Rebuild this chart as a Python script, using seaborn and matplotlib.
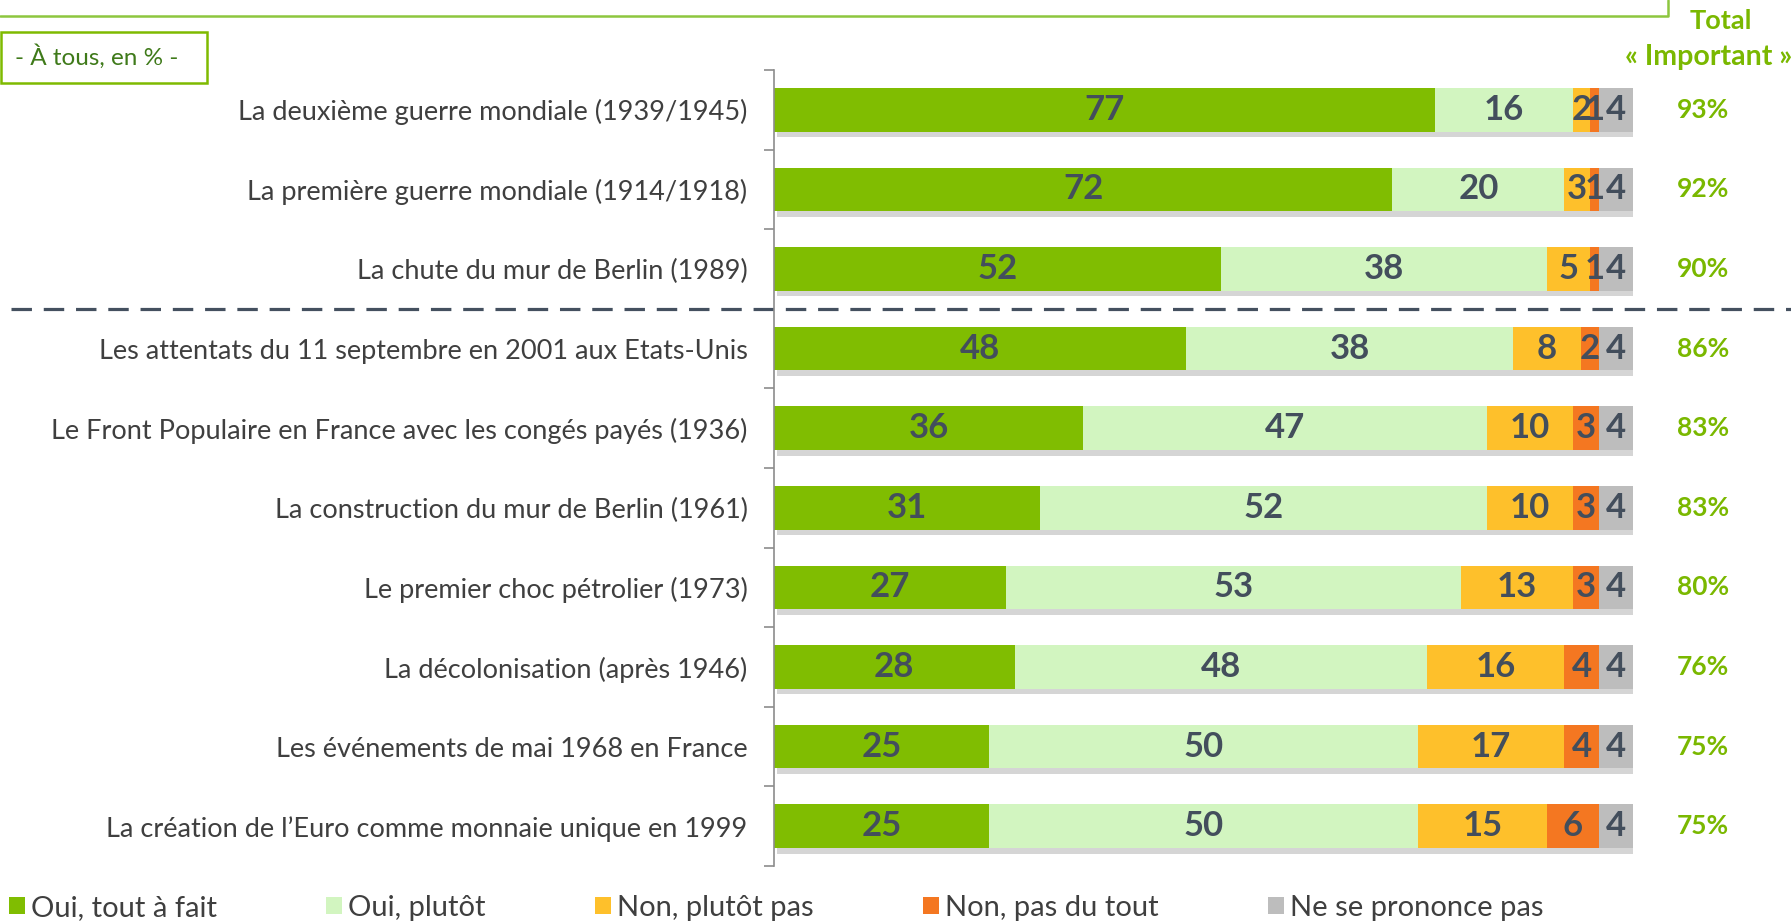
import numpy as np
import pandas as pd
import matplotlib
matplotlib.use("Agg")
import matplotlib.pyplot as plt
import seaborn as sns
from matplotlib.patches import Rectangle, Patch
from matplotlib.lines import Line2D
import matplotlib.patheffects as pe
from matplotlib.transforms import blended_transform_factory

# ---------------- data ----------------
categories = [
    "La deuxième guerre mondiale (1939/1945)",
    "La première guerre mondiale (1914/1918)",
    "La chute du mur de Berlin (1989)",
    "Les attentats du 11 septembre en 2001 aux Etats-Unis",
    "Le Front Populaire en France avec les congés payés (1936)",
    "La construction du mur de Berlin (1961)",
    "Le premier choc pétrolier (1973)",
    "La décolonisation (après 1946)",
    "Les événements de mai 1968 en France",
    "La création de l\u2019Euro comme monnaie unique en 1999",
]
oui_tout_a_fait = [77, 72, 52, 48, 36, 31, 27, 28, 25, 25]
oui_plutot = [16, 20, 38, 38, 47, 52, 53, 48, 50, 50]
non_plutot_pas = [2, 3, 5, 8, 10, 10, 13, 16, 17, 15]
non_pas_du_tout = [1, 1, 1, 2, 3, 3, 3, 4, 4, 6]
ne_se_prononce_pas = [4, 4, 4, 4, 4, 4, 4, 4, 4, 4]
total_important = ["93%", "92%", "90%", "86%", "83%", "83%", "80%", "76%", "75%", "75%"]
series_names = ["Oui, tout à fait", "Oui, plutôt", "Non, plutôt pas",
                "Non, pas du tout", "Ne se prononce pas"]

colors = ["#80BD01", "#D2F5C0", "#FEC02B", "#F47721", "#BDBDBD"]
green_txt = "#7AB800"
val_color = "#434E5C"
lab_color = "#3F3F3F"

# ---------------- style ----------------
sns.set_theme(style="white")
plt.rcParams['font.family'] = ['Lato', 'DejaVu Sans']

W, H = 1791, 922
fig = plt.figure(figsize=(W / 100, H / 100), dpi=100)
ax = fig.add_axes([774 / W, 1 - 866 / H, (1633 - 774) / W, (866 - 70) / H])

series = [oui_tout_a_fait, oui_plutot, non_plutot_pas, non_pas_du_tout, ne_se_prononce_pas]
vals = np.array(series)
cum = np.cumsum(vals, axis=0)

for i in reversed(range(len(series))):
    df = pd.DataFrame({"cat": categories, "val": cum[i]})
    n_before = len(ax.patches)
    sns.barplot(data=df, x="val", y="cat", color=colors[i], orient="h",
                width=0.55, ax=ax, saturation=1, linewidth=0, edgecolor="none")
    if i == len(series) - 1:
        for p in ax.patches[n_before:]:
            p.set_path_effects([pe.SimplePatchShadow(offset=(2, -4), alpha=0.3,
                                                     shadow_rgbFace="#777777"),
                                pe.Normal()])

# value labels
for i in range(len(series)):
    for j in range(len(categories)):
        v = vals[i][j]
        ax.text(cum[i][j] - v / 2, j, f"{v}", ha="center", va="center",
                fontsize=25, fontweight="bold", color=val_color)

ax.set_xlim(0, 100)
ax.set_ylim(9.5, -0.5)
ax.set_xlabel("")
ax.set_ylabel("")
for s in ["top", "right", "bottom"]:
    ax.spines[s].set_visible(False)
ax.spines["left"].set_color("#8C8C8C")
ax.spines["left"].set_linewidth(1.2)
ax.xaxis.set_visible(False)
ax.tick_params(axis="y", which="major", length=0, pad=19, labelsize=19.5,
               labelcolor=lab_color)
ax.set_yticks(np.arange(-0.5, 10, 1), minor=True)
ax.tick_params(axis="y", which="minor", length=7, width=1.2, color="#8C8C8C", left=True)

# dashed separator
tr = blended_transform_factory(fig.transFigure, ax.transData)
ax.add_line(Line2D([11 / W, 1.0], [2.5, 2.5], transform=tr, clip_on=False,
                   color="#44505F", lw=2.3, linestyle=(0, (6.4, 3.7))))

# total important column
for j, t in enumerate(total_important):
    fig.text(1703 / W, j, t, transform=tr, ha="center", va="center",
             fontsize=19, fontweight="bold", color=green_txt)
fig.text(1721 / W, 1 - 21 / H, "Total", ha="center", va="center",
         fontsize=19.5, fontweight="bold", color=green_txt)
fig.text(1625 / W, 1 - 57 / H, "« Important »", ha="left", va="center",
         fontsize=20.5, fontweight="bold", color=green_txt)

# top question frame
fig.add_artist(Line2D([0, 1668 / W, 1668 / W], [1 - 16 / H, 1 - 16 / H, 1.0],
                      transform=fig.transFigure, color="#8DC63F", lw=1.8))
# base box
fig.add_artist(Rectangle((1 / W, 1 - 83 / H), 206 / W, 51 / H, transform=fig.transFigure,
                         fill=False, edgecolor="#7FBA00", lw=1.8))
fig.text(97 / W, 1 - 57 / H, "- À tous, en % -", ha="center", va="center",
         fontsize=17.5, color="#3F7A1A")

# legend
handles = [Patch(facecolor=c, edgecolor="none") for c in colors]
leg = fig.legend(handles, series_names, loc="center left",
                 bbox_to_anchor=(9 / W, 1 - 908 / H), ncol=5, frameon=False,
                 fontsize=21, handlelength=0.55, handleheight=0.55,
                 handletextpad=0.2, columnspacing=3.75, borderpad=0,
                 borderaxespad=0)
for t in leg.get_texts():
    t.set_color(lab_color)

fig.savefig("out.png", dpi=100)
